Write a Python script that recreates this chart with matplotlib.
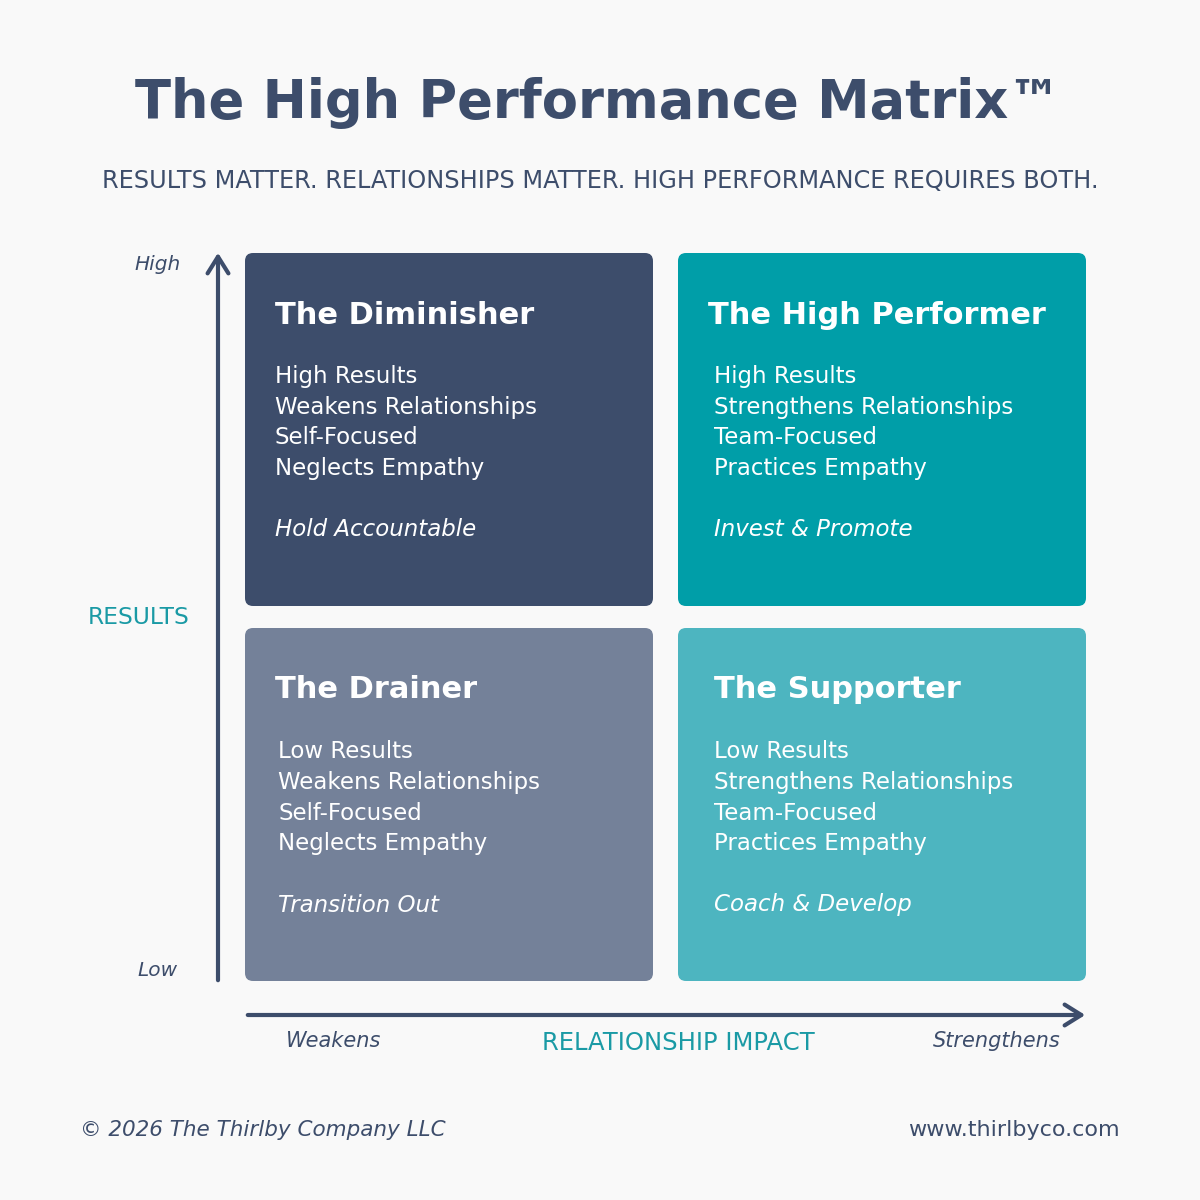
import matplotlib.pyplot as plt
from matplotlib.patches import FancyBboxPatch, FancyArrowPatch

plt.rcParams['font.family'] = ['DejaVu Sans']

title = "The High Performance Matrix\u2122"
subtitle = "RESULTS MATTER. RELATIONSHIPS MATTER. HIGH PERFORMANCE REQUIRES BOTH."
names = ["The Diminisher", "The High Performer", "The Drainer", "The Supporter"]
traits = [
    ["High Results", "Weakens Relationships", "Self-Focused", "Neglects Empathy"],
    ["High Results", "Strengthens Relationships", "Team-Focused", "Practices Empathy"],
    ["Low Results", "Weakens Relationships", "Self-Focused", "Neglects Empathy"],
    ["Low Results", "Strengthens Relationships", "Team-Focused", "Practices Empathy"],
]
actions = ["Hold Accountable", "Invest & Promote", "Transition Out", "Coach & Develop"]
colors = ["#3d4d6b", "#009ea8", "#748199", "#4db5c0"]

navy = "#3d4d6b"
teal = "#1a9aa5"
bg = "#f9f9f9"

fig = plt.figure(figsize=(12, 12), dpi=100, facecolor=bg)
ax = fig.add_axes([0, 0, 1, 1])
ax.set_xlim(0, 1200)
ax.set_ylim(1200, 0)
ax.axis('off')
ax.set_facecolor(bg)

ax.text(598, 103, title, ha='center', va='center', fontsize=38, fontweight='bold', color=navy)
ax.text(600, 181, subtitle, ha='center', va='center', fontsize=17.3, color=navy)

boxes = [(245, 253), (678, 253), (245, 628), (678, 628)]
title_dx = [30, 30, 30, 36]
text_dx = [30, 36, 33, 36]
w, h = 408, 353
for (x, y), name, tr, act, c, tdx, bdx in zip(boxes, names, traits, actions, colors, title_dx, text_dx):
    ax.add_patch(FancyBboxPatch((x + 8, y + 8), w - 16, h - 16,
                                boxstyle="round,pad=8", fc=c, ec='none'))
    ax.text(x + tdx, y + 62, name, ha='left', va='center', fontsize=22, fontweight='bold', color='white')
    for i, t in enumerate(tr):
        ax.text(x + bdx, y + 124 + i * 30.5, t, ha='left', va='center', fontsize=16.5, color='white')
    ax.text(x + bdx, y + 277, act, ha='left', va='center', fontsize=16.5, style='italic', color='white')

# axes arrows
ax.add_patch(FancyArrowPatch((218, 983), (218, 250), arrowstyle='->,head_length=8,head_width=5',
                             lw=3, color=navy, mutation_scale=1.5))
ax.add_patch(FancyArrowPatch((245, 1015), (1088, 1015), arrowstyle='->,head_length=8,head_width=5',
                             lw=3, color=navy, mutation_scale=1.5))

ax.text(158, 265, "High", ha='center', va='center', fontsize=14.5, style='italic', color=navy)
ax.text(158, 970, "Low", ha='center', va='center', fontsize=14.5, style='italic', color=navy)
ax.text(139, 618, "RESULTS", ha='center', va='center', fontsize=16.8, color=teal)
ax.text(334, 1041, "Weakens", ha='center', va='center', fontsize=15, style='italic', color=navy)
ax.text(997, 1041, "Strengthens", ha='center', va='center', fontsize=15, style='italic', color=navy)
ax.text(678, 1043, "RELATIONSHIP IMPACT", ha='center', va='center', fontsize=17.5, color=teal)

ax.text(80, 1130, "\u00a9 2026 The Thirlby Company LLC", ha='left', va='center', fontsize=15.5,
        style='italic', color=navy)
ax.text(1120, 1130, "www.thirlbyco.com", ha='right', va='center', fontsize=16, color=navy)

fig.savefig("out.png", dpi=100, facecolor=bg)
